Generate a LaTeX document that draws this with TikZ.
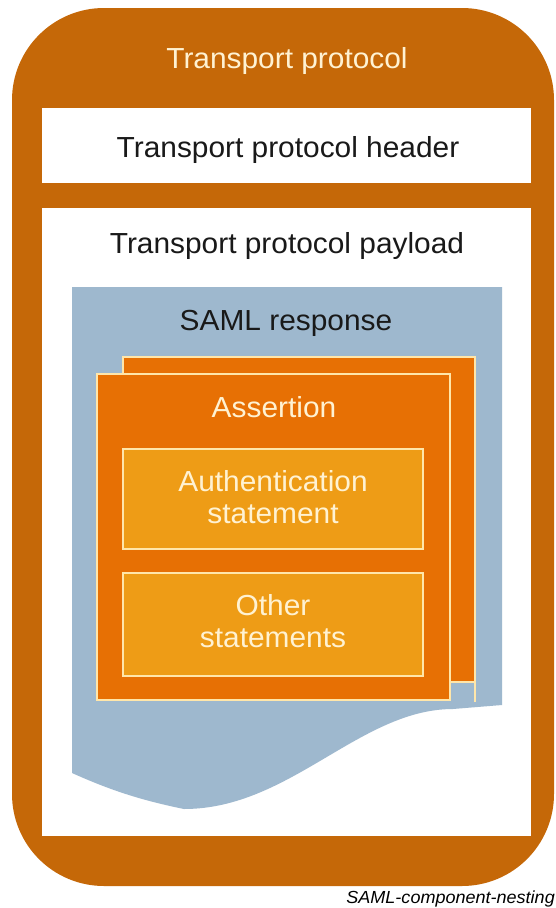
\documentclass[tikz,border=0pt]{standalone}
\usepackage{fontspec}
\setmainfont[FakeStretch=1.03]{Liberation Sans}
\definecolor{outerorange}{RGB}{197,104,8}
\definecolor{assertorange}{RGB}{231,112,4}
\definecolor{stmtorange}{RGB}{238,156,22}
\definecolor{samlblue}{RGB}{158,184,206}
\definecolor{creamline}{RGB}{255,230,170}
\definecolor{creamtext}{RGB}{255,242,210}
\definecolor{darktext}{RGB}{25,25,25}
\tikzset{
  lbl/.style={font=\fontsize{29}{32}\selectfont, anchor=base, inner sep=0pt, align=center},
  lightlbl/.style={lbl, text=creamtext},
  darklbl/.style={lbl, text=darktext},
  card/.style={fill=assertorange, draw=creamline, line width=1.2pt},
  stmtbox/.style={fill=stmtorange, draw=creamline, line width=1.2pt},
}
\begin{document}
\begin{tikzpicture}[x=1pt, y=-1pt]
  \useasboundingbox (0,0) rectangle (555,908);

  % transport protocol frame
  \fill[outerorange, rounded corners=92pt] (12,8) rectangle (554,886);
  \node[lightlbl] (tp) at (287,68) {Transport protocol};

  % header and payload areas
  \fill[white] (42,108) rectangle (531,183);
  \node[darklbl] (hdr) at (288,157) {Transport protocol header};
  \fill[white] (42,208) rectangle (531,836);
  \node[darklbl] (pl) at (287,253) {Transport protocol payload};

  % SAML response with wavy lower edge
  \fill[samlblue] (72,287) -- (502,287) -- (502,705) -- (453,709)
    .. controls (360,709) and (290,809) .. (184,809)
    .. controls (140,800) and (110,790) .. (72,773) -- cycle;
  \node[darklbl] (saml) at (286,330) {SAML response};

  % stacked assertions
  \draw[creamline, line width=1.2pt] (475,682) -- (475,702);
  \draw[card] (123,357) rectangle (475,682);
  \draw[card] (97,374) rectangle (450,700);
  \node[lightlbl] (asr) at (274,417) {Assertion};

  % statements inside the assertion (base anchor sits on the last line)
  \draw[stmtbox] (123,449) rectangle (423,549);
  \node[lightlbl] (auth) at (273,523) {Authentication\\statement};
  \draw[stmtbox] (123,573) rectangle (423,676);
  \node[lightlbl] (other) at (273,647) {Other\\statements};

  % figure label
  \node[font=\fontsize{17.5}{19}\selectfont\itshape, text=black, anchor=base east, inner sep=0pt] (cap) at (555,903) {SAML-component-nesting};
\end{tikzpicture}
\end{document}
